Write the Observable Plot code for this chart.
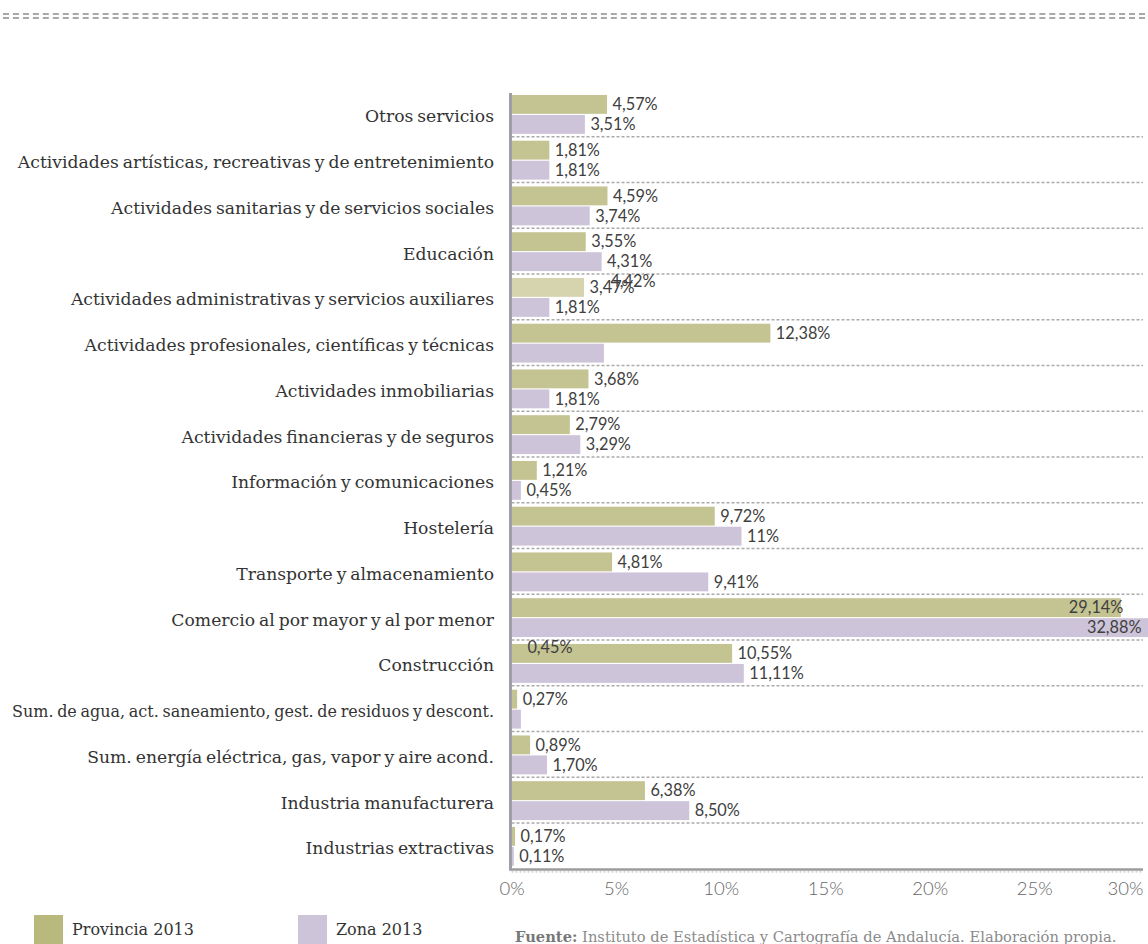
<!DOCTYPE html>
<html>
<head>
<meta charset="utf-8">
<script src="https://cdn.jsdelivr.net/npm/d3@7"></script>
<script src="https://cdn.jsdelivr.net/npm/@observablehq/plot@0.6"></script>
<style>
  html, body { margin: 0; padding: 0; background: #fff; }
  #wrap { position: relative; width: 1148px; height: 944px; overflow: hidden; }
  #topline { position: absolute; left: 3px; top: 13px; width: 1142px; height: 2px;
    border-top: 2px dashed #a8a8a8; border-bottom: 2px dashed #a8a8a8; }
  #chart { position: absolute; left: 0; top: 30px; }
  #chart g[aria-label="y-axis tick label"] text { word-spacing: -1.5px; }
  .leg { position: absolute; top: 915px; display: flex; align-items: center;
    font-family: "DejaVu Serif", serif; font-size: 16px; color: #333; }
  .sw { width: 29px; height: 29px; margin-right: 9px; }
  #source { position: absolute; left: 515px; top: 928px; font-family: "DejaVu Serif", serif;
    font-size: 14.7px; color: #8a8a8a; white-space: nowrap; }
  #source b { color: #777; }
</style>
</head>
<body>
<div id="wrap">
  <div id="topline"></div>
  <div id="chart"></div>
  <div class="leg" style="left:34px"><div class="sw" style="background:#b9b97d"></div>Provincia 2013</div>
  <div class="leg" style="left:298px"><div class="sw" style="background:#cdc4d9"></div>Zona 2013</div>
  <div id="source"><b>Fuente:</b> Instituto de Estadística y Cartografía de Andalucía. Elaboración propia.</div>
</div>
<script>
const categories = [
  "Otros servicios",
  "Actividades artísticas, recreativas y de entretenimiento",
  "Actividades sanitarias y de servicios sociales",
  "Educación",
  "Actividades administrativas y servicios auxiliares",
  "Actividades profesionales, científicas y técnicas",
  "Actividades inmobiliarias",
  "Actividades financieras y de seguros",
  "Información y comunicaciones",
  "Hostelería",
  "Transporte y almacenamiento",
  "Comercio al por mayor y al por menor",
  "Construcción",
  "Sum. de agua, act. saneamiento, gest. de residuos y descont.",
  "Sum. energía eléctrica, gas, vapor y aire acond.",
  "Industria manufacturera",
  "Industrias extractivas"
];
const series = ["Provincia 2013", "Zona 2013"];
const provincia = [4.57, 1.81, 4.59, 3.55, 3.47, 12.38, 3.68, 2.79, 1.21, 9.72, 4.81, 29.14, 10.55, 0.27, 0.89, 6.38, 0.17];
const zona = [3.51, 1.81, 3.74, 4.31, 1.81, 4.42, 1.81, 3.29, 0.45, 11, 9.41, 32.88, 11.11, 0.45, 1.70, 8.50, 0.11];
const provinciaLabels = ["4,57%", "1,81%", "4,59%", "3,55%", "3,47%", "12,38%", "3,68%", "2,79%", "1,21%", "9,72%", "4,81%", "29,14%", "10,55%", "0,27%", "0,89%", "6,38%", "0,17%"];
const zonaLabels = ["3,51%", "1,81%", "3,74%", "4,31%", "1,81%", "", "1,81%", "3,29%", "0,45%", "11%", "9,41%", "32,88%", "11,11%", "", "1,70%", "8,50%", "0,11%"];
// labels that appear displaced in the original graphic
const strayLabels = [
  {category: "Actividades administrativas y servicios auxiliares", value: 4.42, text: "4,42%"},
  {category: "Construcción", value: 0.45, text: "0,45%"}
];
const highlightedCategory = "Actividades administrativas y servicios auxiliares";
const xTicks = [0, 5, 10, 15, 20, 25];
const xLastTick = [30];
const xTickMarks = [5, 10, 15, 20, 25, 30];

const colProv = "#c4c392", colProvHi = "#d6d4ae", colZona = "#cdc4d9";

const prov = categories.map((c, i) => ({category: c, value: provincia[i], label: provinciaLabels[i]}));
const zon = categories.map((c, i) => ({category: c, value: zona[i], label: zonaLabels[i]}));
const lastCat = categories[categories.length - 1];
const xMax = 30.2;
const half = 20;
const valueFont = {fontFamily: "Lato, sans-serif", fontSize: 16.3, fill: "#404040"};
const tickFont = {fontFamily: "Lato, sans-serif", fontWeight: 300, fontSize: 18.5, fill: "#666"};

const chart = Plot.plot({
  width: 1148,
  height: 875,
  marginLeft: 511.5,
  marginRight: 5,
  marginTop: 58.1,
  marginBottom: 32.3,
  x: {domain: [0, xMax], axis: null},
  y: {domain: categories, padding: 0.15, round: false, axis: null},
  style: {background: "transparent", overflow: "hidden"},
  marks: [
    Plot.ruleY(categories.slice(1), {dy: -24, stroke: "#aaa", strokeWidth: 1.5, strokeDasharray: "3,2"}),
    Plot.barX(prov, {y: "category", x: "value", insetBottom: half,
      fill: d => d.category === highlightedCategory ? colProvHi : colProv}),
    Plot.barX(zon, {y: "category", x: "value", insetTop: half, fill: colZona}),
    Plot.ruleX([0], {stroke: "#a09fa8", strokeWidth: 3, dx: -1.5, insetTop: 5, insetBottom: 2}),
    Plot.ruleX(xTickMarks, {y: () => lastCat, insetTop: 34, dy: 2, stroke: "#999", strokeWidth: 1.2, strokeDasharray: "1.5,1.5"}),
    Plot.ruleY([lastCat], {dy: 22.5, stroke: "#9c9c9c", strokeWidth: 2.5}),
    Plot.ruleY([lastCat], {dy: 25, stroke: "#bbb", strokeWidth: 1, strokeDasharray: "2,2"}),
    Plot.text(prov.filter(d => d.label && d.value < 25), {x: "value", y: "category", text: "label",
      textAnchor: "start", dx: 5, dy: -10, ...valueFont}),
    Plot.text(zon.filter(d => d.label && d.value < 25), {x: "value", y: "category", text: "label",
      textAnchor: "start", dx: 5, dy: 10, ...valueFont}),
    Plot.text(prov.filter(d => d.value >= 25), {x: d => Math.min(d.value, xMax), y: "category", text: "label",
      textAnchor: "end", dx: 2, dy: -10, ...valueFont}),
    Plot.text(zon.filter(d => d.value >= 25), {x: d => Math.min(d.value, xMax), y: "category", text: "label",
      textAnchor: "end", dx: -2, dy: 10, ...valueFont}),
    Plot.text(strayLabels, {x: "value", y: "category", text: "text", textAnchor: "start", dx: 6, dy: -16, ...valueFont}),
    Plot.axisY({tickSize: 0, tickPadding: 18, label: null, fontFamily: "DejaVu Serif, serif", fontSize: 17.2, fill: "#333", dy: 2}),
    Plot.axisX(xTicks, {tickSize: 0, tickPadding: 9, label: null, tickFormat: d => d + "%", ...tickFont}),
    Plot.axisX(xLastTick, {tickSize: 0, tickPadding: 9, label: null, tickFormat: d => d + "%", textAnchor: "end", dx: 4, ...tickFont})
  ]
});
document.getElementById("chart").appendChild(chart);
// keep the widest category label within the left margin, as in the original
const maxLabelWidth = 482;
chart.querySelectorAll('g[aria-label="y-axis tick label"] text').forEach(t => {
  if (t.getComputedTextLength() > maxLabelWidth) {
    t.setAttribute("textLength", maxLabelWidth);
    t.setAttribute("lengthAdjust", "spacingAndGlyphs");
  }
});
</script>
</body>
</html>
